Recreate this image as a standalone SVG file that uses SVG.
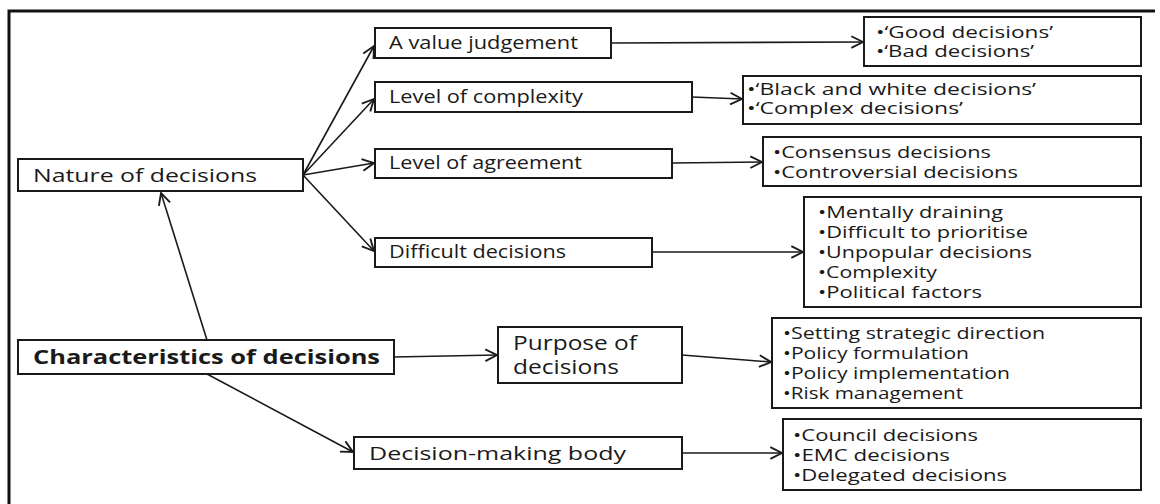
<svg xmlns="http://www.w3.org/2000/svg" width="1160" height="504" viewBox="0 0 1160 504">
<defs>
<marker id="arr" markerUnits="userSpaceOnUse" markerWidth="14" markerHeight="14" viewBox="0 0 12 12" refX="11" refY="6" orient="auto">
<path d="M1,1 L11,6 L1,11" fill="none" stroke="#1a1a1a" stroke-width="1.6"/>
</marker>
</defs>
<style>
.box{fill:#fff;stroke:#1a1a1a;stroke-width:2}
.t{font-family:"Open Sans","Noto Sans",sans-serif;fill:#1a1a1a}
.m{font-size:17.5px}
.s{font-size:15.5px}
.l{font-size:18.5px}
.p{font-size:20px}
.b{font-size:20px;font-weight:bold}
.c{fill:none;stroke:#1a1a1a;stroke-width:1.6}
</style>
<rect width="1160" height="504" fill="#fff"/>
<path d="M9,504 V11 H1155" fill="none" stroke="#111" stroke-width="3"/>

<g id="connectors">
<line class="c" x1="207" y1="340" x2="161" y2="193" marker-end="url(#arr)"/>
<line class="c" x1="207" y1="374" x2="353" y2="452" marker-end="url(#arr)"/>
<line class="c" x1="394" y1="357" x2="497" y2="355" marker-end="url(#arr)"/>
<line class="c" x1="682" y1="355" x2="771" y2="362" marker-end="url(#arr)"/>
<line class="c" x1="682" y1="453" x2="782" y2="453" marker-end="url(#arr)"/>
<line class="c" x1="652" y1="252" x2="803" y2="252" marker-end="url(#arr)"/>
<line class="c" x1="303" y1="175" x2="374" y2="46" marker-end="url(#arr)"/>
<line class="c" x1="303" y1="175" x2="374" y2="99" marker-end="url(#arr)"/>
<line class="c" x1="303" y1="175" x2="374" y2="163" marker-end="url(#arr)"/>
<line class="c" x1="303" y1="175" x2="374" y2="251" marker-end="url(#arr)"/>
<line class="c" x1="611" y1="43" x2="863" y2="42" marker-end="url(#arr)"/>
<line class="c" x1="692" y1="97" x2="742" y2="99" marker-end="url(#arr)"/>
<line class="c" x1="672" y1="163" x2="762" y2="162" marker-end="url(#arr)"/>
</g>

<g id="nature">
<rect class="box" x="18" y="159" width="285" height="32"/>
<text class="t l" x="33" y="182" textLength="224" lengthAdjust="spacingAndGlyphs">Nature of decisions</text>
</g>
<g id="characteristics">
<rect class="box" x="18" y="340" width="376" height="34"/>
<text class="t b" x="33" y="364" textLength="347" lengthAdjust="spacingAndGlyphs">Characteristics of decisions</text>
</g>
<g id="value">
<rect class="box" x="375" y="28" width="236" height="30"/>
<text class="t m" x="389" y="49" textLength="189" lengthAdjust="spacingAndGlyphs">A value judgement</text>
</g>
<g id="complexity">
<rect class="box" x="375" y="82" width="317" height="30"/>
<text class="t m" x="389" y="103" textLength="194" lengthAdjust="spacingAndGlyphs">Level of complexity</text>
</g>
<g id="agreement">
<rect class="box" x="375" y="149" width="297" height="29"/>
<text class="t m" x="389" y="169" textLength="193" lengthAdjust="spacingAndGlyphs">Level of agreement</text>
</g>
<g id="difficult">
<rect class="box" x="375" y="238" width="277" height="29"/>
<text class="t m" x="389" y="258" textLength="177" lengthAdjust="spacingAndGlyphs">Difficult decisions</text>
</g>
<g id="purpose">
<rect class="box" x="498" y="327" width="184" height="56"/>
<text class="t p" x="513" y="350" textLength="124" lengthAdjust="spacingAndGlyphs">Purpose of</text>
<text class="t p" x="513" y="374" textLength="106" lengthAdjust="spacingAndGlyphs">decisions</text>
</g>
<g id="body">
<rect class="box" x="354" y="437" width="328" height="32"/>
<text class="t l" x="369" y="460" textLength="257" lengthAdjust="spacingAndGlyphs">Decision-making body</text>
</g>

<g id="good">
<rect class="box" x="864" y="17" width="277" height="49"/>
<text class="t s" x="876" y="38" textLength="177" lengthAdjust="spacingAndGlyphs">•‘Good decisions’</text>
<text class="t s" x="876" y="57" textLength="158" lengthAdjust="spacingAndGlyphs">•‘Bad decisions’</text>
</g>
<g id="blackwhite">
<rect class="box" x="743" y="76" width="398" height="48"/>
<text class="t s" x="747" y="95" textLength="289" lengthAdjust="spacingAndGlyphs">•‘Black and white decisions’</text>
<text class="t s" x="747" y="114" textLength="216" lengthAdjust="spacingAndGlyphs">•‘Complex decisions’</text>
</g>
<g id="consensus">
<rect class="box" x="763" y="137" width="378" height="49"/>
<text class="t s" x="773" y="158" textLength="218" lengthAdjust="spacingAndGlyphs">•Consensus decisions</text>
<text class="t s" x="773" y="178" textLength="245" lengthAdjust="spacingAndGlyphs">•Controversial decisions</text>
</g>
<g id="difficultlist">
<rect class="box" x="804" y="197" width="337" height="110"/>
<text class="t s" x="818" y="218" textLength="185" lengthAdjust="spacingAndGlyphs">•Mentally draining</text>
<text class="t s" x="818" y="238" textLength="210" lengthAdjust="spacingAndGlyphs">•Difficult to prioritise</text>
<text class="t s" x="818" y="258" textLength="214" lengthAdjust="spacingAndGlyphs">•Unpopular decisions</text>
<text class="t s" x="818" y="278" textLength="119" lengthAdjust="spacingAndGlyphs">•Complexity</text>
<text class="t s" x="818" y="298" textLength="164" lengthAdjust="spacingAndGlyphs">•Political factors</text>
</g>
<g id="purposelist">
<rect class="box" x="772" y="318" width="369" height="90"/>
<text class="t s" x="783" y="339" textLength="262" lengthAdjust="spacingAndGlyphs">•Setting strategic direction</text>
<text class="t s" x="783" y="359" textLength="186" lengthAdjust="spacingAndGlyphs">•Policy formulation</text>
<text class="t s" x="783" y="379" textLength="227" lengthAdjust="spacingAndGlyphs">•Policy implementation</text>
<text class="t s" x="783" y="399" textLength="180" lengthAdjust="spacingAndGlyphs">•Risk management</text>
</g>
<g id="bodylist">
<rect class="box" x="783" y="419" width="358" height="71"/>
<text class="t s" x="793" y="441" textLength="185" lengthAdjust="spacingAndGlyphs">•Council decisions</text>
<text class="t s" x="793" y="461" textLength="157" lengthAdjust="spacingAndGlyphs">•EMC decisions</text>
<text class="t s" x="793" y="481" textLength="214" lengthAdjust="spacingAndGlyphs">•Delegated decisions</text>
</g>
</svg>
